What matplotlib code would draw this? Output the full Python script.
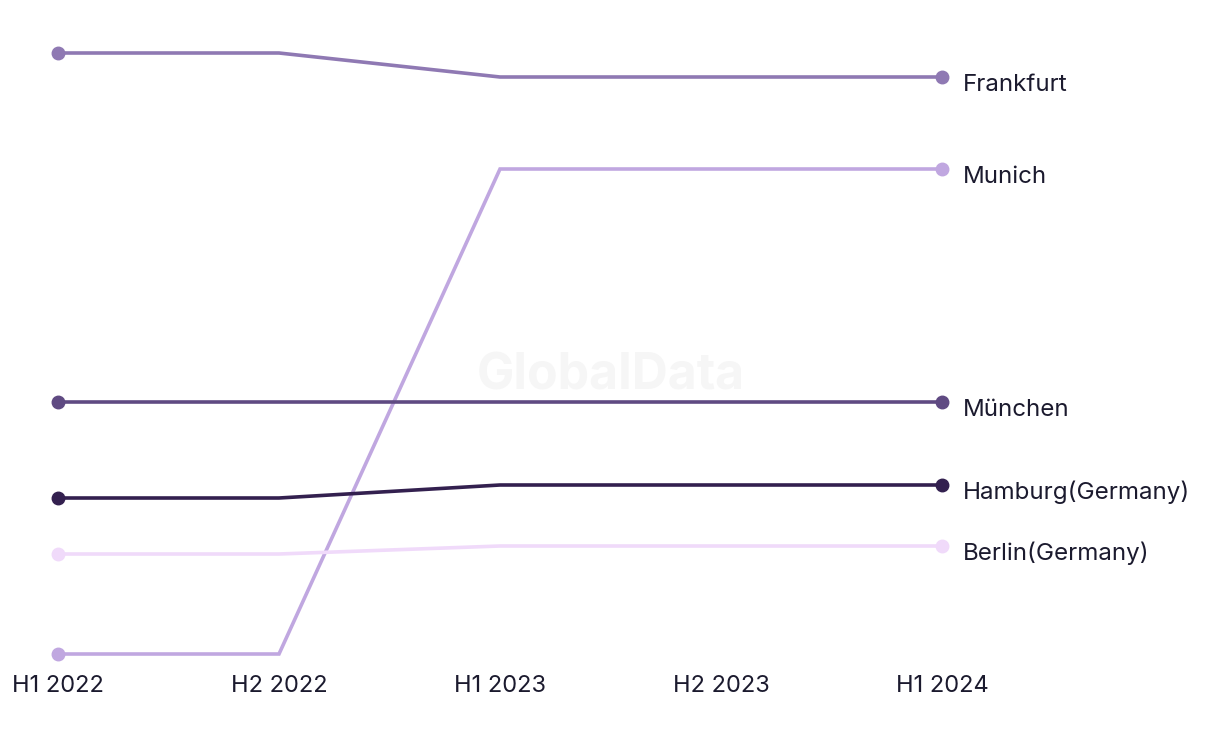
import matplotlib
matplotlib.use("Agg")
import matplotlib.pyplot as plt
from matplotlib import font_manager

periods = ["H1 2022", "H2 2022", "H1 2023", "H2 2023", "H1 2024"]
# no H2 2023 data point, lines go straight from H1 2023 to H1 2024
x_idx = [0, 1, 2, 4]

frankfurt = [62.7, 62.7, 60.3, 60.3]
munich = [2.6, 2.6, 51.1, 51.1]
muenchen = [27.8, 27.8, 27.8, 27.8]
hamburg = [18.2, 18.2, 19.5, 19.5]
berlin = [12.6, 12.6, 13.4, 13.4]

series = [
    ("Frankfurt", frankfurt, "#8f79b3"),
    ("Munich", munich, "#c0a7e0"),
    ("München", muenchen, "#5f4a82"),
    ("Hamburg(Germany)", hamburg, "#33204f"),
    ("Berlin(Germany)", berlin, "#f0dafa"),
]

names = {f.name for f in font_manager.fontManager.ttflist}
label_font = ["Inter", "DejaVu Sans"] if "Inter" in names else ["DejaVu Sans"]
tick_font = ["Liberation Sans Narrow", "DejaVu Sans"] if "Liberation Sans Narrow" in names else label_font
text_color = "#1b1a2e"

fig = plt.figure(figsize=(12.2, 7.44), dpi=100)
W, H = 1220, 744
ax = fig.add_axes([58 / W, (H - 665) / H, (942 - 58) / W, 665 / H])
ax.set_xlim(0, 4)
ax.set_ylim(1.5, 68)

ax.text(2.5, 30.4, "GlobalData", fontsize=36, fontweight="bold", color="#f6f6f6",
        ha="center", va="center", family=label_font, zorder=0)

for name, vals, col in series:
    ax.plot(x_idx, vals, color=col, lw=2.6, marker="o", markersize=9,
            markevery=[0, len(vals) - 1], solid_joinstyle="miter", clip_on=False, zorder=2)
    ax.annotate(name, xy=(x_idx[-1], vals[-1]), xytext=(15, -5.5), textcoords="offset points",
                ha="left", va="center", fontsize=17.4, color=text_color, family=label_font,
                annotation_clip=False)

ax.set_xticks(range(len(periods)))
ax.set_xticklabels(periods, fontsize=17, color=text_color, family=tick_font)
ax.tick_params(axis="x", length=0, pad=7)
ax.set_yticks([])
for s in ax.spines.values():
    s.set_visible(False)

fig.savefig("out.png", dpi=100)
